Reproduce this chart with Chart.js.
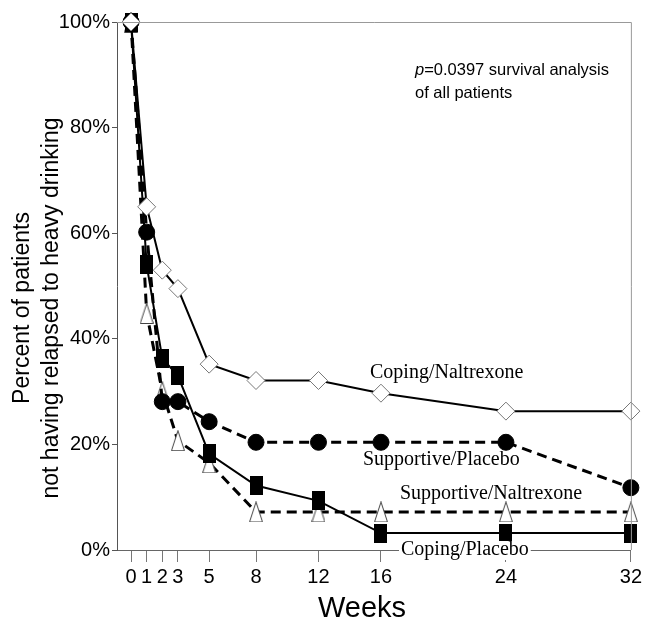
<!DOCTYPE html>
<html>
<head>
<meta charset="utf-8">
<title>Relapse to heavy drinking</title>
<script src="https://cdn.jsdelivr.net/npm/chart.js@4.4.1/dist/chart.umd.min.js"></script>
<style>
    body { margin: 0; background: #fff; }
    #wrap { width: 645px; height: 620px; position: relative; }
</style>
</head>
<body>
<div id="wrap"><canvas id="relapseChart"></canvas></div>
<script>
// data
const weeks = [0, 1, 2, 3, 5, 8, 12, 16, 24, 32];
const weekTicks = [0, 1, 2, 3, 5, 8, 12, 16, 24, 32];
const percentTicks = [0, 20, 40, 60, 80, 100];

const copingNaltrexone = [100, 65, 53, 49.5, 35.2, 32.1, 32.1, 29.7, 26.3, 26.3];
const supportivePlacebo = [100, 60.2, 28.1, 28.1, 24.3, 20.4, 20.4, 20.4, 20.4, 11.8];
const copingPlacebo = [100, 54, 36.3, 33, 18.2, 12.2, 9.3, 3.2, 3.2, 3.2];
const supportiveNaltrexone = [100, 44.8, 30, 20.7, 16.5, 7.2, 7.2, 7.2, 7.2, 7.2];

const seriesLabels = ['Coping/Naltrexone', 'Supportive/Placebo', 'Coping/Placebo', 'Supportive/Naltrexone'];

document.addEventListener('DOMContentLoaded', () => {
    const sans = "'Liberation Sans', Arial, sans-serif";
    const serif = "'Liberation Serif', 'Times New Roman', serif";

    function toPoints(values) {
        return weeks.map((w, i) => ({ x: w, y: values[i] }));
    }

    // tall black box marker
    function makeBox() {
        const c = document.createElement('canvas');
        c.width = 13;
        c.height = 19;
        const g = c.getContext('2d');
        g.fillStyle = '#000';
        g.fillRect(0, 0, 13, 19);
        return c;
    }

    // tall open triangle marker
    function makeTriangle() {
        const c = document.createElement('canvas');
        c.width = 14;
        c.height = 21;
        const g = c.getContext('2d');
        g.beginPath();
        g.moveTo(7, 0.5);
        g.lineTo(13.5, 20.5);
        g.lineTo(0.5, 20.5);
        g.closePath();
        g.fillStyle = '#fff';
        g.fill();
        g.strokeStyle = '#444';
        g.lineWidth = 1;
        g.stroke();
        return c;
    }

    const frameAndText = {
        id: 'frameAndText',
        afterDraw(chart) {
            const ctx = chart.ctx;
            const a = chart.chartArea;
            ctx.save();

            // top and right frame
            ctx.strokeStyle = '#999';
            ctx.lineWidth = 1;
            ctx.beginPath();
            ctx.moveTo(a.left, a.top + 0.5);
            ctx.lineTo(a.right + 0.5, a.top + 0.5);
            ctx.lineTo(a.right + 0.5, a.bottom);
            ctx.stroke();

            ctx.fillStyle = '#000';
            ctx.textBaseline = 'alphabetic';
            ctx.textAlign = 'left';

            // p value note
            ctx.font = 'italic 16.5px ' + sans;
            ctx.fillText('p', 415, 75);
            const pw = ctx.measureText('p').width;
            ctx.font = '16.5px ' + sans;
            ctx.fillText('=0.0397 survival analysis', 415 + pw, 75);
            ctx.fillText('of all patients', 415, 98);

            // series labels
            ctx.font = '20px ' + serif;
            ctx.fillText(seriesLabels[0], 370, 378);
            ctx.fillText(seriesLabels[1], 363, 465);
            ctx.fillText(seriesLabels[3], 400, 499);
            const cw = ctx.measureText(seriesLabels[2]).width;
            ctx.fillStyle = '#fff';
            ctx.fillRect(399, 541, cw + 4, 19);
            ctx.fillStyle = '#000';
            ctx.fillText(seriesLabels[2], 401, 555);

            // axis titles
            ctx.font = '29px ' + sans;
            ctx.textAlign = 'center';
            ctx.fillText('Weeks', 362, 617);

            ctx.font = '23px ' + sans;
            ctx.textBaseline = 'middle';
            ctx.translate(0, 308);
            ctx.rotate(-Math.PI / 2);
            ctx.fillText('Percent of patients', 0, 23);
            ctx.fillText('not having relapsed to heavy drinking', 0, 52);
            ctx.restore();
        }
    };

    const ctx = document.getElementById('relapseChart').getContext('2d');
    new Chart(ctx, {
        type: 'line',
        data: {
            datasets: [
                {
                    label: seriesLabels[0],
                    data: toPoints(copingNaltrexone),
                    borderColor: '#000',
                    borderWidth: 2,
                    pointStyle: 'rectRot',
                    pointRadius: 9,
                    pointBackgroundColor: '#fff',
                    pointBorderColor: '#777',
                    pointBorderWidth: 1
                },
                {
                    label: seriesLabels[1],
                    data: toPoints(supportivePlacebo),
                    borderColor: '#000',
                    borderWidth: 3,
                    borderDash: [10, 6],
                    pointStyle: 'circle',
                    pointRadius: 8,
                    pointBackgroundColor: '#000',
                    pointBorderColor: '#000',
                    pointBorderWidth: 1
                },
                {
                    label: seriesLabels[2],
                    data: toPoints(copingPlacebo),
                    borderColor: '#000',
                    borderWidth: 2,
                    pointStyle: makeBox(),
                    pointRadius: 8
                },
                {
                    label: seriesLabels[3],
                    data: toPoints(supportiveNaltrexone),
                    borderColor: '#000',
                    borderWidth: 3,
                    borderDash: [10, 6],
                    pointStyle: makeTriangle(),
                    pointRadius: 8
                }
            ]
        },
        options: {
            responsive: true,
            maintainAspectRatio: false,
            animation: false,
            events: [],
            clip: false,
            layout: {
                padding: { left: 0, top: 22, right: 13, bottom: 0 }
            },
            elements: {
                line: { tension: 0, fill: false }
            },
            plugins: {
                legend: { display: false },
                tooltip: { enabled: false }
            },
            scales: {
                x: {
                    type: 'linear',
                    min: -0.9,
                    max: 32,
                    afterBuildTicks: (scale) => {
                        scale.ticks = weekTicks.map(v => ({ value: v }));
                    },
                    afterFit: (scale) => {
                        scale.height = 70;
                    },
                    ticks: {
                        autoSkip: false,
                        maxRotation: 0,
                        padding: 3,
                        color: '#000',
                        font: { family: sans, size: 20 },
                        callback: (v) => String(v)
                    },
                    grid: {
                        drawOnChartArea: false,
                        tickLength: 12,
                        color: '#777'
                    },
                    border: { color: '#666', width: 1 }
                },
                y: {
                    min: 0,
                    max: 100,
                    afterBuildTicks: (scale) => {
                        scale.ticks = percentTicks.map(v => ({ value: v }));
                    },
                    afterFit: (scale) => {
                        scale.width = 117;
                    },
                    ticks: {
                        padding: 2,
                        color: '#000',
                        font: { family: sans, size: 20 },
                        callback: (v) => v + '%'
                    },
                    grid: {
                        drawOnChartArea: false,
                        tickLength: 5,
                        color: '#555'
                    },
                    border: { color: '#555', width: 1 }
                }
            }
        },
        plugins: [frameAndText]
    });
});
</script>
</body>
</html>
